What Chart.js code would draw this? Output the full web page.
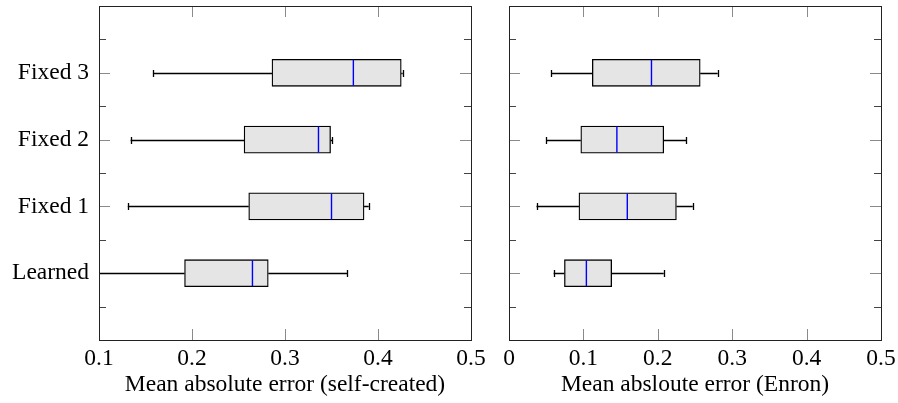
<!DOCTYPE html>
<html><head><meta charset="utf-8">
<script src="https://cdn.jsdelivr.net/npm/chart.js@4/dist/chart.umd.min.js"></script>
<style>
html,body{margin:0;padding:0;background:#fff;overflow:hidden;width:898px;height:403px}
#l{position:absolute;left:0;top:0}
#r{position:absolute;left:490px;top:0}
</style>
</head><body>
<canvas id="l" width="490" height="403"></canvas>
<canvas id="r" width="408" height="403"></canvas>
<script>
// Categories, bottom to top (y positions 1..4)
const categories = ['Learned', 'Fixed 1', 'Fixed 2', 'Fixed 3'];
const categoryPositions = [1, 2, 3, 4];

// Left panel: self-created dataset
const selfMin = [0.085, 0.131, 0.134, 0.158];
const selfQ1  = [0.192, 0.261, 0.256, 0.286];
const selfMed = [0.265, 0.350, 0.336, 0.3735];
const selfQ3  = [0.282, 0.385, 0.349, 0.425];
const selfMax = [0.367, 0.390, 0.351, 0.4265];

// Right panel: Enron dataset
const enronMin = [0.060, 0.037, 0.050, 0.057];
const enronQ1  = [0.0745, 0.094, 0.0965, 0.112];
const enronMed = [0.104, 0.159, 0.145, 0.1915];
const enronQ3  = [0.138, 0.225, 0.208, 0.257];
const enronMax = [0.208, 0.247, 0.238, 0.2805];

const selfTicks = [0.1, 0.2, 0.3, 0.4, 0.5];
const enronTicks = [0, 0.1, 0.2, 0.3, 0.4, 0.5];

const FONT = {family: "'Liberation Serif', 'Times New Roman', serif", size: 23.5};

function makeChart(id, mins, q1s, meds, q3s, maxs, xTicks, title, yWidth, padRight, showLabels) {
  const half = v => Math.round(v) + 0.5;
  const boxPlugin = {
    id: 'boxparts',
    beforeDatasetsDraw(chart) {
      const ctx = chart.ctx, x = chart.scales.x, y = chart.scales.y, a = chart.chartArea;
      ctx.save();
      ctx.lineWidth = 1;
      // x ticks (inward, top and bottom)
      ctx.strokeStyle = '#8a8a8a';
      x.ticks.forEach(t => {
        if (t.value <= x.min + 1e-9 || t.value >= x.max - 1e-9) return;
        const px = half(x.getPixelForValue(t.value));
        ctx.beginPath();
        ctx.moveTo(px, a.top); ctx.lineTo(px, a.top + 11);
        ctx.moveTo(px, a.bottom); ctx.lineTo(px, a.bottom - 11);
        ctx.stroke();
      });
      // y ticks
      y.ticks.forEach(t => {
        if (t.value <= y.min + 1e-9 || t.value >= y.max - 1e-9) return;
        const py = half(y.getPixelForValue(t.value));
        const major = Math.abs(t.value - Math.round(t.value)) < 1e-9;
        const len = major ? 11 : 7;
        ctx.strokeStyle = major ? '#8a8a8a' : '#444';
        ctx.beginPath();
        ctx.moveTo(a.left, py); ctx.lineTo(a.left + len, py);
        ctx.moveTo(a.right, py); ctx.lineTo(a.right - len, py);
        ctx.stroke();
      });
      // whiskers
      ctx.beginPath(); ctx.rect(a.left + 1, a.top, a.right - a.left - 2, a.bottom - a.top); ctx.clip();
      ctx.strokeStyle = '#000'; ctx.lineWidth = 1.3;
      for (let i = 0; i < categoryPositions.length; i++) {
        const py = half(y.getPixelForValue(categoryPositions[i]));
        const pMin = x.getPixelForValue(mins[i]), pQ1 = x.getPixelForValue(q1s[i]);
        const pQ3 = x.getPixelForValue(q3s[i]), pMax = x.getPixelForValue(maxs[i]);
        ctx.beginPath();
        ctx.moveTo(pMin, py); ctx.lineTo(pQ1, py);
        ctx.moveTo(pQ3, py); ctx.lineTo(pMax, py);
        ctx.stroke();
        ctx.beginPath();
        ctx.moveTo(half(pMin), py - 3.5); ctx.lineTo(half(pMin), py + 3.5);
        ctx.moveTo(half(pMax), py - 3.5); ctx.lineTo(half(pMax), py + 3.5);
        ctx.stroke();
      }
      ctx.restore();
    },
    afterDatasetsDraw(chart) {
      const ctx = chart.ctx, x = chart.scales.x, y = chart.scales.y;
      ctx.save();
      ctx.strokeStyle = '#0000ff'; ctx.lineWidth = 1.4;
      for (let i = 0; i < categoryPositions.length; i++) {
        const py = y.getPixelForValue(categoryPositions[i]);
        const pm = x.getPixelForValue(meds[i]);
        ctx.beginPath(); ctx.moveTo(pm, py - 13); ctx.lineTo(pm, py + 13); ctx.stroke();
      }
      ctx.restore();
    },
    afterDraw(chart) {
      const ctx = chart.ctx, a = chart.chartArea;
      ctx.save();
      ctx.lineWidth = 1;
      ctx.strokeStyle = '#222';
      ctx.strokeRect(half(a.left), half(a.top), Math.round(a.right) - Math.round(a.left), Math.round(a.bottom) - Math.round(a.top));
      ctx.restore();
    }
  };

  return new Chart(document.getElementById(id), {
    type: 'bar',
    data: {
      datasets: [{
        data: categoryPositions.map((p, i) => ({y: p, x: [q1s[i], q3s[i]]})),
        backgroundColor: '#e5e5e5',
        borderColor: '#000',
        borderWidth: 1.3,
        borderSkipped: false,
        barThickness: 27
      }]
    },
    options: {
      indexAxis: 'y',
      responsive: false,
      animation: false,
      devicePixelRatio: 1,
      layout: {padding: {top: 6, right: padRight, left: 0, bottom: 0}},
      plugins: {legend: {display: false}, tooltip: {enabled: false}},
      scales: {
        x: {
          type: 'linear',
          min: xTicks[0], max: xTicks[xTicks.length - 1],
          afterBuildTicks: s => { s.ticks = xTicks.map(v => ({value: v})); },
          grid: {display: false, drawTicks: false},
          border: {display: false},
          ticks: {
            font: FONT, color: '#000', padding: 5, maxRotation: 0, autoSkip: false,
            callback: v => (v === 0 ? '0' : Number(v).toFixed(1))
          },
          title: {display: true, text: title, font: FONT, color: '#000', padding: {top: 0, bottom: 4}},
          afterFit: s => { s.height = 63; s.paddingLeft = 0; s.paddingRight = 0; }
        },
        y: {
          type: 'linear',
          min: 0, max: 5,
          offset: false,
          grid: {display: false, drawTicks: false, offset: false},
          border: {display: false},
          ticks: {
            stepSize: 0.5, autoSkip: false, font: FONT, color: '#000', padding: 10,
            display: showLabels,
            callback: v => {
              const k = categoryPositions.indexOf(v);
              return k >= 0 ? categories[k] : '';
            }
          },
          afterFit: s => { s.width = yWidth; s.paddingTop = 0; s.paddingBottom = 0; }
        }
      }
    },
    plugins: [boxPlugin]
  });
}

makeChart('l', selfMin, selfQ1, selfMed, selfQ3, selfMax, selfTicks,
  'Mean absolute error (self-created)', 99, 19, true);
makeChart('r', enronMin, enronQ1, enronMed, enronQ3, enronMax, enronTicks,
  'Mean absloute error (Enron)', 19, 17, false);
</script>
</body></html>
